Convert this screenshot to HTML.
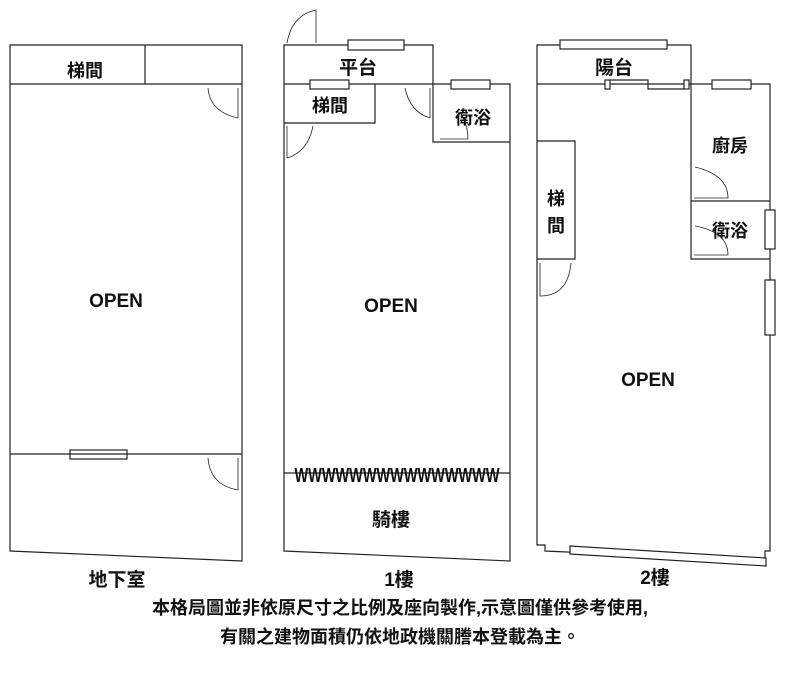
<!DOCTYPE html>
<html><head><meta charset="utf-8"><style>
body{margin:0;background:#fff;width:800px;height:668px;overflow:hidden}
svg text{font-family:"Liberation Sans","Noto Sans CJK TC",sans-serif;fill:#111;font-weight:bold}
</style></head><body>
<svg width="800" height="668" viewBox="0 0 800 668" fill="none" stroke="#222" stroke-width="1.2">
<!-- Basement -->
<polygon points="10,45 242,45 242,561 10,551"/>
<line x1="10" y1="84" x2="242" y2="84"/>
<line x1="145" y1="45" x2="145" y2="84"/>
<line x1="10" y1="454" x2="242" y2="454"/>
<rect x="70" y="450" width="57" height="9" fill="#fff"/>
<line x1="70" y1="454" x2="127" y2="454"/>
<path d="M208,88 Q210,112 238,118 M238,88 V118" stroke-width="0.8"/>
<path d="M208,458 Q210,485 238,490 M238,458 V490" stroke-width="0.8"/>
<text x="85" y="77" font-size="18" stroke="none" text-anchor="middle">梯間</text>
<text x="116" y="307" font-size="19" stroke="none" text-anchor="middle">OPEN</text>
<text x="117" y="586" font-size="19" stroke="none" text-anchor="middle">地下室</text>
<!-- Floor 1 -->
<polygon points="284,45 433,45 433,84 510,84 510,561 284,551"/>
<line x1="284" y1="84" x2="433" y2="84"/>
<polyline points="284,123 375,123 375,84"/>
<polyline points="433,84 433,142 510,142"/>
<rect x="348" y="40" width="56" height="10" fill="#fff"/>
<rect x="310" y="80" width="39" height="9" fill="#fff"/>
<rect x="451" y="80" width="39" height="9" fill="#fff"/>
<path d="M287,43 Q292,15 316,10 V43" stroke-width="0.8"/>
<path d="M405,88 Q410,112 430,118 M430,88 V118" stroke-width="0.8"/>
<path d="M313,126 Q308,152 287,158 M287,126 V158" stroke-width="0.8"/>
<path d="M440,139 H468 Q468,125 460,112" stroke-width="0.8"/>
<line x1="284" y1="473" x2="510" y2="473"/>
<text x="397" y="482" font-size="20" font-weight="normal" stroke="none" text-anchor="middle" textLength="205" lengthAdjust="spacingAndGlyphs">WWWWWWWWWWWWWWW</text>
<text x="358" y="74" font-size="19" stroke="none" text-anchor="middle">平台</text>
<text x="330" y="112" font-size="18" stroke="none" text-anchor="middle">梯間</text>
<text x="473" y="124" font-size="18" stroke="none" text-anchor="middle">衛浴</text>
<text x="391" y="312" font-size="19" stroke="none" text-anchor="middle">OPEN</text>
<text x="391" y="526" font-size="19" stroke="none" text-anchor="middle">騎樓</text>
<text x="399" y="586" font-size="19" stroke="none" text-anchor="middle">1樓</text>
<!-- Floor 2 -->
<polygon points="537,45 691,45 691,84 770,84 770,551 765,551 765,561 545,551 545,545 537,545"/>
<line x1="537" y1="84" x2="691" y2="84"/>
<polyline points="537,141 575,141 575,259 537,259"/>
<polyline points="691,84 691,259 770,259"/>
<line x1="691" y1="201" x2="770" y2="201"/>
<rect x="560" y="40" width="107" height="9" fill="#fff"/>
<rect x="712" y="80" width="39" height="9" fill="#fff"/>
<rect x="605" y="80" width="5" height="9" fill="#fff"/>
<rect x="684" y="80" width="5" height="9" fill="#fff"/>
<polyline points="610,80 648,80 648,89 684,89" />
<rect x="765" y="210" width="10" height="39" fill="#fff"/>
<rect x="765" y="280" width="10" height="55" fill="#fff"/>
<polygon points="570,546 766,558 766,566 570,554" fill="#fff"/>
<path d="M694,198 H728 Q728,175 695,167" stroke-width="0.8"/>
<path d="M694,255 H728 Q728,232 695,226" stroke-width="0.8"/>
<path d="M540,263 V296 Q568,296 571,263" stroke-width="0.8"/>
<text x="614" y="74" font-size="19" stroke="none" text-anchor="middle">陽台</text>
<text x="730" y="152" font-size="18" stroke="none" text-anchor="middle">廚房</text>
<text x="730" y="237" font-size="18" stroke="none" text-anchor="middle">衛浴</text>
<text x="556" y="205" font-size="18" stroke="none" text-anchor="middle">梯</text>
<text x="556" y="232" font-size="18" stroke="none" text-anchor="middle">間</text>
<text x="648" y="386" font-size="19" stroke="none" text-anchor="middle">OPEN</text>
<text x="655" y="584" font-size="19" stroke="none" text-anchor="middle">2樓</text>
<text x="400" y="614" font-size="18" stroke="none" text-anchor="middle">本格局圖並非依原尺寸之比例及座向製作,示意圖僅供參考使用,</text>
<text x="400" y="643" font-size="18" stroke="none" text-anchor="middle">有關之建物面積仍依地政機關謄本登載為主。</text>
</svg>
</body></html>
